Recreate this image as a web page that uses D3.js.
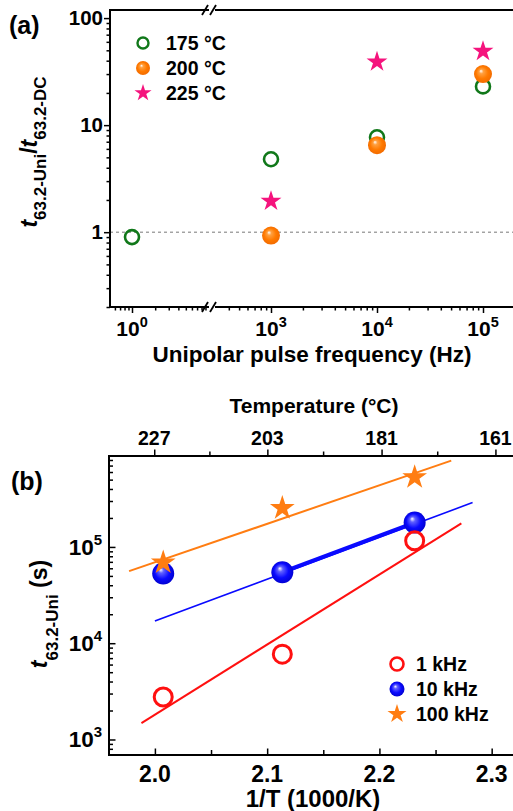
<!DOCTYPE html>
<html lang="en">
<head>
<meta charset="UTF-8">
<title>Unipolar pulse lifetime</title>
<script src="https://d3js.org/d3.v7.min.js"></script>
<style>
    body { margin: 0; background: #fff; }
    text { font-family: "Liberation Sans", Arial, sans-serif; font-weight: bold; fill: #000; }
</style>
</head>
<body>
<svg width="513" height="811"></svg>
<script>
    // panel (a): t63.2-Uni / t63.2-DC vs pulse frequency
    var freqs = [1, 1e3, 1e4, 1e5];
    var ratio175 = [0.9, 4.8, 7.7, 23];
    var ratio200 = [null, 0.93, 6.5, 30];
    var ratio225 = [null, 1.95, 39, 49];
    var legendA = ["175 \u00B0C", "200 \u00B0C", "225 \u00B0C"];

    // panel (b): t63.2-Uni vs 1/T
    var invT = [2.0074, 2.1135, 2.2314];
    var life1k = [2760, 7700, 116000];
    var life10k = [53000, 54600, 179000];
    var life100k = [69000, 253000, 530000];
    var fit1k = [[1.988, 1480], [2.273, 176000]];
    var fit10k = [[2.0, 17000], [2.283, 289000]];
    var fit100k = [[1.977, 56000], [2.264, 787000]];
    var legendB = ["1 kHz", "10 kHz", "100 kHz"];
    var invTTicks = [2.0, 2.1, 2.2, 2.3];
    var invTMinor = [2.05, 2.15, 2.25];
    var topTemps = [227, 203, 181, 161];
    var topMinorTemps = [215, 192, 171];

    var green = "#11781a", orange = "#ff7a00", pink = "#f5137d", red = "#ff1010", blue = "#0a0aff", orangeStar = "#ff7d12";

    var svg = d3.select("svg");
    var defs = svg.append("defs");

    function ball(id, light, base, dark) {
        var gr = defs.append("radialGradient").attr("id", id)
            .attr("cx", "50%").attr("cy", "50%").attr("r", "55%")
            .attr("fx", "38%").attr("fy", "32%");
        gr.append("stop").attr("offset", "0%").attr("stop-color", "#fff");
        gr.append("stop").attr("offset", "22%").attr("stop-color", light);
        gr.append("stop").attr("offset", "60%").attr("stop-color", base);
        gr.append("stop").attr("offset", "100%").attr("stop-color", dark);
    }
    ball("ballOrange", "#ffa040", orange, "#f06800");
    ball("ballBlue", "#6060ff", blue, "#0000c8");

    function starPath(r) {
        return d3.symbol(d3.symbolStar, r * r / 0.8908130915292852)();
    }

    function dropDomain(s) { s.select(".domain").remove(); }

    // ---------------- panel (a) ----------------
    var aTop = 10, aBottom = 307, aLeft = 110, aRight = 513;
    var yA = d3.scaleLog().domain([0.2, 119]).range([aBottom, aTop]);
    var xLo = d3.scaleLog().domain([1, 10]).range([132, 209]);
    var xHi = d3.scaleLog().domain([1e3, 1e4]).range([271, 377]);
    var breakL = 208, breakR = 216;
    function xA(f) { return f < 100 ? xLo(f) : xHi(f); }

    var gA = svg.append("g");

    // dashed reference at 1
    gA.append("line")
        .attr("x1", aLeft).attr("x2", aRight)
        .attr("y1", yA(1)).attr("y2", yA(1))
        .attr("stroke", "#777").attr("stroke-width", 1).attr("stroke-dasharray", "3,3");

    // y ticks
    var yAMajor = [1, 10, 100];
    var yAMinor = yA.ticks().filter(function (v) { return yAMajor.indexOf(v) < 0; });
    gA.append("g").attr("transform", "translate(" + aLeft + ",0)")
        .attr("stroke-width", 1.5)
        .call(d3.axisLeft(yA).tickValues(yAMinor).tickSize(3.5).tickFormat(""))
        .call(dropDomain);
    gA.append("g").attr("transform", "translate(" + aLeft + ",0)")
        .attr("stroke-width", 1.5)
        .call(d3.axisLeft(yA).tickValues(yAMajor).tickSize(6).tickFormat(""))
        .call(dropDomain);
    gA.selectAll(".ylabA").data(yAMajor).enter().append("text")
        .attr("x", 103).attr("y", function (d) { return yA(d) + 7; })
        .attr("text-anchor", "end").attr("font-size", 20.5)
        .text(function (d) { return d; });

    // x ticks (two segments around the break)
    var loTicks = d3.scaleLog().domain([0.5, 10]).ticks()
        .filter(function (v) { return xLo(v) > aLeft + 1 && xLo(v) < breakL - 1; });
    var hiTicks = d3.scaleLog().domain([100, 2e5]).ticks()
        .filter(function (v) { return xHi(v) > breakR + 1 && xHi(v) < aRight; });
    function isPow(v) { return Math.abs(Math.log10(v) - Math.round(Math.log10(v))) < 1e-9; }
    [[xLo, loTicks], [xHi, hiTicks]].forEach(function (p) {
        gA.append("g").attr("transform", "translate(0," + aBottom + ")")
            .attr("stroke-width", 1.5)
            .call(d3.axisBottom(p[0]).tickValues(p[1].filter(function (v) { return !isPow(v); })).tickSize(3.5).tickFormat(""))
            .call(dropDomain);
        gA.append("g").attr("transform", "translate(0," + aBottom + ")")
            .attr("stroke-width", 1.5)
            .call(d3.axisBottom(p[0]).tickValues(p[1].filter(isPow)).tickSize(6).tickFormat(""))
            .call(dropDomain);
    });
    var xLabA = gA.selectAll(".xlabA").data(freqs).enter().append("text")
        .attr("x", function (d) { return xA(d); }).attr("y", 336)
        .attr("text-anchor", "middle").attr("font-size", 21);
    xLabA.append("tspan").text("10");
    xLabA.append("tspan").attr("font-size", 14.5).attr("dy", -9)
        .text(function (d) { return Math.round(Math.log10(d)); });

    // frame with axis break
    var frameA = [
        [aLeft, aTop, aLeft, aBottom],
        [aLeft, aTop, breakL, aTop], [breakR, aTop, aRight, aTop],
        [aLeft, aBottom, breakL, aBottom], [breakR, aBottom, aRight, aBottom]
    ];
    gA.selectAll(".frameA").data(frameA).enter().append("line")
        .attr("x1", function (d) { return d[0]; }).attr("y1", function (d) { return d[1]; })
        .attr("x2", function (d) { return d[2]; }).attr("y2", function (d) { return d[3]; })
        .attr("stroke", "#000").attr("stroke-width", 2).attr("stroke-linecap", "square");
    [aTop, aBottom].forEach(function (yy) {
        [breakL - 3, breakR - 3].forEach(function (xx) {
            gA.append("line")
                .attr("x1", xx - 3).attr("y1", yy + 5).attr("x2", xx + 3).attr("y2", yy - 5)
                .attr("stroke", "#000").attr("stroke-width", 1.8);
        });
    });

    // data points
    var ptsA = gA.append("g");
    freqs.forEach(function (f, i) {
        if (ratio175[i] != null) {
            ptsA.append("circle").attr("cx", xA(f)).attr("cy", yA(ratio175[i])).attr("r", 7)
                .attr("fill", "none").attr("stroke", green).attr("stroke-width", 2.6);
        }
    });
    freqs.forEach(function (f, i) {
        if (ratio200[i] != null) {
            ptsA.append("circle").attr("cx", xA(f)).attr("cy", yA(ratio200[i])).attr("r", 9)
                .attr("fill", "url(#ballOrange)");
        }
    });
    freqs.forEach(function (f, i) {
        if (ratio225[i] != null) {
            ptsA.append("path").attr("d", starPath(11))
                .attr("transform", "translate(" + xA(f) + "," + yA(ratio225[i]) + ")")
                .attr("fill", pink);
        }
    });

    // legend (a)
    var legA = gA.append("g");
    legA.append("circle").attr("cx", 143).attr("cy", 43).attr("r", 5.5)
        .attr("fill", "none").attr("stroke", green).attr("stroke-width", 2.4);
    legA.append("circle").attr("cx", 143).attr("cy", 68).attr("r", 7).attr("fill", "url(#ballOrange)");
    legA.append("path").attr("d", starPath(9)).attr("transform", "translate(143,93)").attr("fill", pink);
    legA.selectAll(".legtA").data(legendA).enter().append("text")
        .attr("x", 166).attr("y", function (d, i) { return 49.5 + i * 25; })
        .attr("font-size", 19.5).text(function (d) { return d; });

    gA.append("text").attr("x", 9).attr("y", 34).attr("font-size", 25).text("(a)");

    // y title (a)
    var tA = gA.append("text").attr("transform", "translate(37,152) rotate(-90)")
        .attr("text-anchor", "middle").attr("font-size", 23);
    tA.append("tspan").attr("font-style", "italic").text("t");
    tA.append("tspan").attr("font-size", 17).attr("dy", 9).text("63.2-Uni");
    tA.append("tspan").attr("dy", -9).text("/");
    tA.append("tspan").attr("font-style", "italic").text("t");
    tA.append("tspan").attr("font-size", 17).attr("dy", 9).text("63.2-DC");

    gA.append("text").attr("x", 312).attr("y", 362).attr("text-anchor", "middle")
        .attr("font-size", 22.5).text("Unipolar pulse frequency (Hz)");

    // ---------------- panel (b) ----------------
    var bTop = 456, bBottom = 755, bLeft = 109, bRight = 513;
    var xB = d3.scaleLinear().domain([1.96, 2.319]).range([110, 513]);
    var yB = d3.scaleLog().domain([690, 880000]).range([bBottom, bTop]);
    function tempToInv(t) { return 1000 / (t + 273.15); }

    var gB = svg.append("g");

    // fit lines
    var line = d3.line().x(function (d) { return xB(d[0]); }).y(function (d) { return yB(d[1]); });
    gB.append("path").attr("d", line(fit100k)).attr("stroke", orangeStar).attr("stroke-width", 2).attr("fill", "none");
    gB.append("path").attr("d", line(fit10k)).attr("stroke", blue).attr("stroke-width", 1.6).attr("fill", "none");
    gB.append("path").attr("d", line(fit1k)).attr("stroke", red).attr("stroke-width", 2).attr("fill", "none");
    // connecting segment of the 10 kHz points
    gB.append("path").attr("d", line([[invT[1], life10k[1]], [invT[2], life10k[2]]]))
        .attr("stroke", blue).attr("stroke-width", 4).attr("fill", "none");

    // ticks
    var yBMajor = [1e3, 1e4, 1e5];
    var yBMinor = yB.ticks().filter(function (v) { return yBMajor.indexOf(v) < 0; });
    gB.append("g").attr("transform", "translate(" + bLeft + ",0)").attr("stroke-width", 1.5)
        .call(d3.axisLeft(yB).tickValues(yBMinor).tickSize(-4).tickFormat("")).call(dropDomain);
    gB.append("g").attr("transform", "translate(" + bLeft + ",0)").attr("stroke-width", 1.5)
        .call(d3.axisLeft(yB).tickValues(yBMajor).tickSize(-6.5).tickFormat("")).call(dropDomain);
    gB.append("g").attr("transform", "translate(0," + bBottom + ")").attr("stroke-width", 1.5)
        .call(d3.axisBottom(xB).tickValues(invTTicks).tickSize(-6.5).tickFormat("")).call(dropDomain);
    gB.append("g").attr("transform", "translate(0," + bBottom + ")").attr("stroke-width", 1.5)
        .call(d3.axisBottom(xB).tickValues(invTMinor).tickSize(-5).tickFormat("")).call(dropDomain);
    gB.append("g").attr("transform", "translate(0," + bTop + ")").attr("stroke-width", 1.5)
        .call(d3.axisTop(xB).tickValues(topTemps.map(tempToInv)).tickSize(6.5).tickFormat("")).call(dropDomain);
    gB.append("g").attr("transform", "translate(0," + bTop + ")").attr("stroke-width", 1.5)
        .call(d3.axisTop(xB).tickValues(topMinorTemps.map(tempToInv)).tickSize(4.5).tickFormat("")).call(dropDomain);

    var frameB = [
        [bLeft, bTop, bLeft, bBottom],
        [bLeft, bTop, bRight, bTop],
        [bLeft, bBottom, bRight, bBottom]
    ];
    gB.selectAll(".frameB").data(frameB).enter().append("line")
        .attr("x1", function (d) { return d[0]; }).attr("y1", function (d) { return d[1]; })
        .attr("x2", function (d) { return d[2]; }).attr("y2", function (d) { return d[3]; })
        .attr("stroke", "#000").attr("stroke-width", 2).attr("stroke-linecap", "square");

    // tick labels
    var yLabB = gB.selectAll(".ylabB").data(yBMajor).enter().append("text")
        .attr("x", 102).attr("y", function (d) { return yB(d) + 8; })
        .attr("text-anchor", "end").attr("font-size", 22.5);
    yLabB.append("tspan").text("10");
    yLabB.append("tspan").attr("font-size", 15).attr("dy", -10)
        .text(function (d) { return Math.round(Math.log10(d)); });
    gB.selectAll(".xlabB").data(invTTicks).enter().append("text")
        .attr("x", function (d) { return xB(d); }).attr("y", 782)
        .attr("text-anchor", "middle").attr("font-size", 23)
        .text(function (d) { return d.toFixed(1); });
    gB.selectAll(".toplab").data(topTemps).enter().append("text")
        .attr("x", function (d) { return xB(tempToInv(d)); }).attr("y", 445)
        .attr("text-anchor", "middle").attr("font-size", 19.5)
        .text(function (d) { return d; });

    gB.append("text").attr("x", 314).attr("y", 413).attr("text-anchor", "middle")
        .attr("font-size", 21).text("Temperature (\u00B0C)");
    gB.append("text").attr("x", 313).attr("y", 807).attr("text-anchor", "middle")
        .attr("font-size", 24).text("1/T (1000/K)");
    gB.append("text").attr("x", 11).attr("y", 490).attr("font-size", 25).text("(b)");

    var tB = gB.append("text").attr("transform", "translate(47,614) rotate(-90)")
        .attr("text-anchor", "middle").attr("font-size", 23);
    tB.append("tspan").attr("font-style", "italic").text("t");
    tB.append("tspan").attr("font-size", 17).attr("dy", 11).text("63.2-Uni");
    tB.append("tspan").attr("dy", -11).text(" (s)");

    // data points
    var ptsB = gB.append("g");
    invT.forEach(function (x, i) {
        ptsB.append("circle").attr("cx", xB(x)).attr("cy", yB(life10k[i])).attr("r", 11)
            .attr("fill", "url(#ballBlue)");
    });
    invT.forEach(function (x, i) {
        ptsB.append("circle").attr("cx", xB(x)).attr("cy", yB(life1k[i])).attr("r", 9)
            .attr("fill", "none").attr("stroke", red).attr("stroke-width", 3);
    });
    invT.forEach(function (x, i) {
        ptsB.append("path").attr("d", starPath(13))
            .attr("transform", "translate(" + xB(x) + "," + yB(life100k[i]) + ")")
            .attr("fill", orangeStar);
    });

    // legend (b)
    var legB = gB.append("g");
    legB.append("circle").attr("cx", 397).attr("cy", 664).attr("r", 6.5)
        .attr("fill", "none").attr("stroke", red).attr("stroke-width", 2.6);
    legB.append("circle").attr("cx", 397).attr("cy", 689).attr("r", 7.5).attr("fill", "url(#ballBlue)");
    legB.append("path").attr("d", starPath(10)).attr("transform", "translate(397,714)").attr("fill", orangeStar);
    legB.selectAll(".legtB").data(legendB).enter().append("text")
        .attr("x", 416).attr("y", function (d, i) { return 671 + i * 25; })
        .attr("font-size", 19.5).text(function (d) { return d; });
</script>
</body>
</html>
